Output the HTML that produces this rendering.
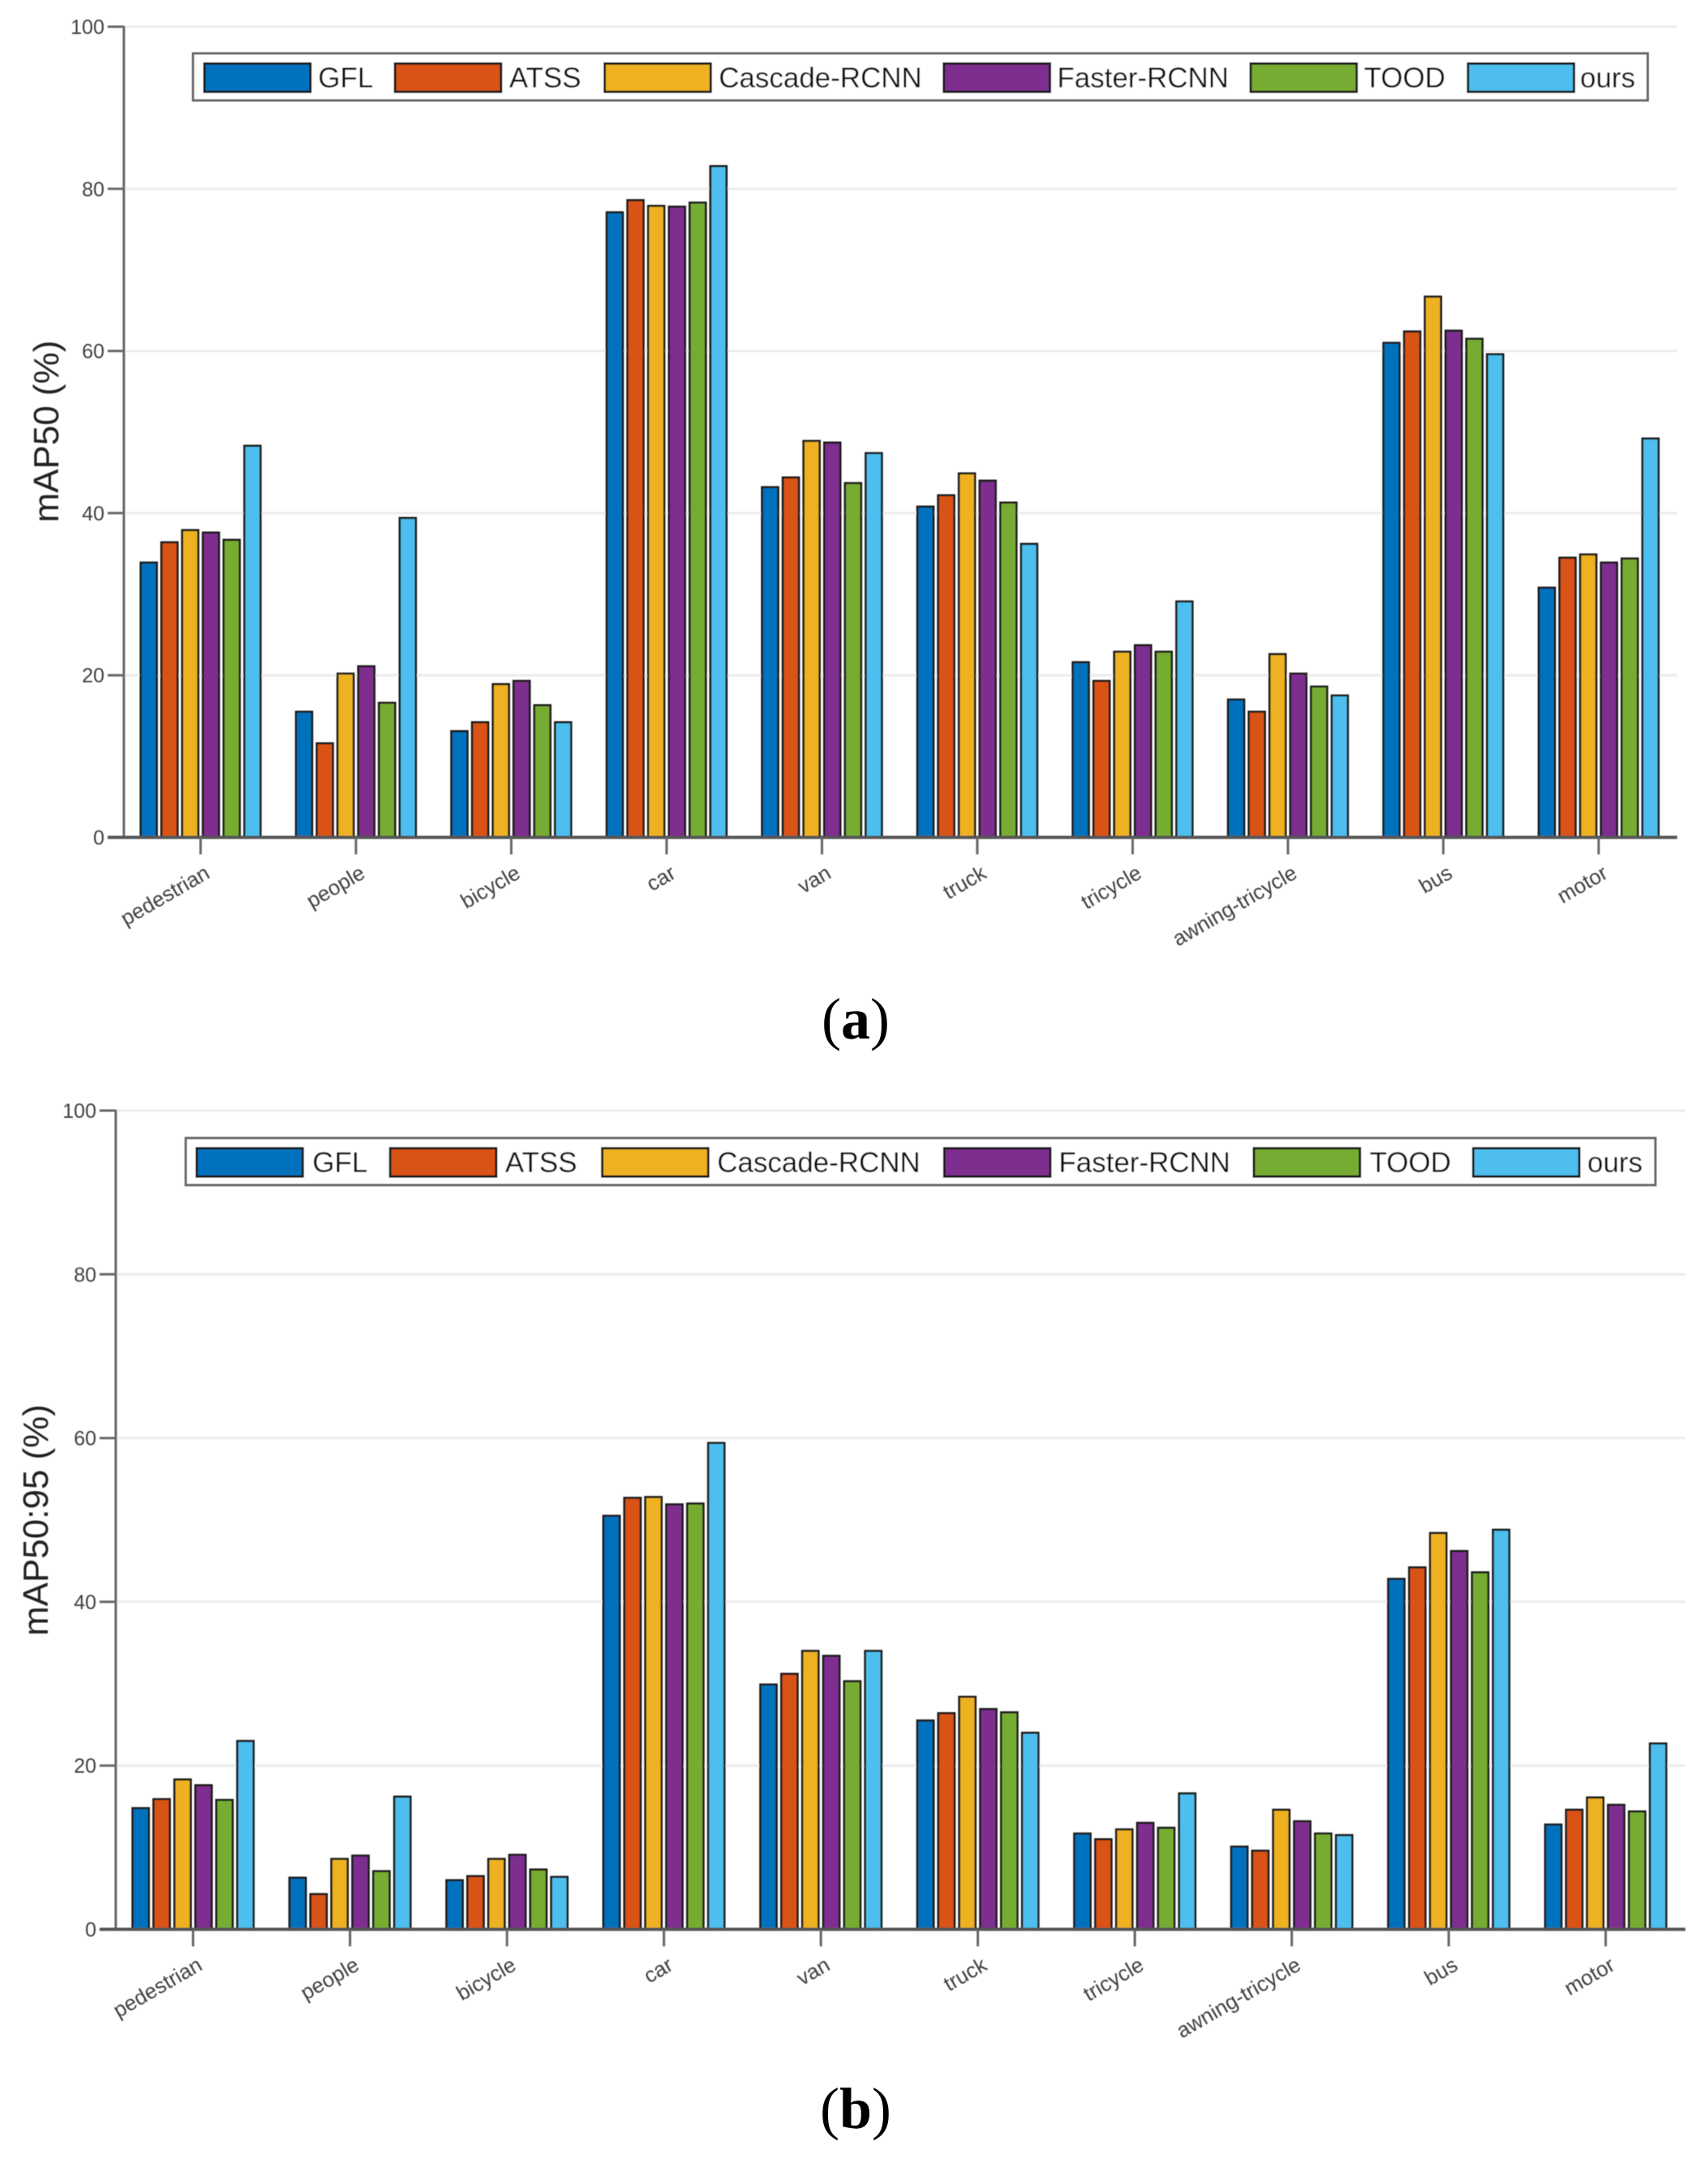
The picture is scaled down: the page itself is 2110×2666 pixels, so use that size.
<!DOCTYPE html>
<html lang="en">
<head>
<meta charset="utf-8">
<title>mAP comparison charts</title>
<style>
html,body{margin:0;padding:0;background:#fff;}
body{width:2110px;height:2666px;overflow:hidden;}
svg{display:block;}
text{font-family:"Liberation Sans",sans-serif;}
.serif{font-family:"Liberation Serif",serif;}
</style>
</head>
<body>
<svg id="figure" xmlns="http://www.w3.org/2000/svg" width="2110" height="2666" viewBox="0 0 2110 2666">
  <defs><filter id="soft" x="-2%" y="-2%" width="104%" height="104%"><feGaussianBlur stdDeviation="0.6"/></filter></defs>
  <rect width="2110" height="2666" fill="#ffffff"/>
  <g id="chart-a" filter="url(#soft)"></g>
  <g id="chart-b" filter="url(#soft)"></g>
  <text class="serif" x="1057" y="1283" font-size="72" text-anchor="middle" fill="#000">(<tspan font-weight="bold">a</tspan>)</text>
  <text class="serif" x="1057" y="2629" font-size="72" text-anchor="middle" fill="#000">(<tspan font-weight="bold">b</tspan>)</text>
</svg>
<script>
const categories = ['pedestrian','people','bicycle','car','van','truck','tricycle','awning-tricycle','bus','motor'];
const seriesNames = ['GFL','ATSS','Cascade-RCNN','Faster-RCNN','TOOD','ours'];
const yTicks = [0,20,40,60,80,100];

const map50GFL     = [33.9,15.5,13.1,77.1,43.2,40.8,21.6,17.0,61.0,30.8];
const map50ATSS    = [36.4,11.6,14.2,78.6,44.4,42.2,19.3,15.5,62.4,34.5];
const map50Cascade = [37.9,20.2,18.9,77.9,48.9,44.9,22.9,22.6,66.7,34.9];
const map50Faster  = [37.6,21.1,19.3,77.8,48.7,44.0,23.7,20.2,62.5,33.9];
const map50TOOD    = [36.7,16.6,16.3,78.3,43.7,41.3,22.9,18.6,61.5,34.4];
const map50Ours    = [48.3,39.4,14.2,82.8,47.4,36.2,29.1,17.5,59.6,49.2];

const map5095GFL     = [14.8,6.3,6.0,50.5,29.9,25.5,11.7,10.1,42.8,12.8];
const map5095ATSS    = [15.9,4.3,6.5,52.7,31.2,26.4,11.0,9.6,44.2,14.6];
const map5095Cascade = [18.3,8.6,8.6,52.8,34.0,28.4,12.2,14.6,48.4,16.1];
const map5095Faster  = [17.6,9.0,9.1,51.9,33.4,26.9,13.0,13.2,46.2,15.2];
const map5095TOOD    = [15.8,7.1,7.3,52.0,30.3,26.5,12.4,11.7,43.6,14.4];
const map5095Ours    = [23.0,16.2,6.4,59.4,34.0,24.0,16.6,11.5,48.8,22.7];

const seriesColors = ['#0072BD','#D95319','#EDB120','#7E2F8E','#77AC30','#4DBEEE'];
const SVGNS = 'http://www.w3.org/2000/svg';

function make(parent, tag, attrs, content) {
  const node = document.createElementNS(SVGNS, tag);
  for (const k in attrs) node.setAttribute(k, attrs[k]);
  if (content !== undefined) node.textContent = content;
  parent.appendChild(node);
  return node;
}

function drawChart(root, cfg) {
  const yScale = v => cfg.y0 - v * (cfg.y0 - cfg.y100) / 100;
  const xScale = i => cfg.xFirst + i * cfg.xStep;
  const pitch = cfg.xStep * 0.1335;
  const barW = pitch * 0.78;

  yTicks.forEach(t => {
    if (t > 0) {
      const grid = make(root, 'line', {x1: cfg.xAxis, x2: cfg.xEnd, y1: yScale(t), y2: yScale(t), stroke: '#ececec', 'stroke-width': 3});
      
      
    }
    const tick = make(root, 'line', {x1: cfg.xAxis - 20, x2: cfg.xAxis, y1: yScale(t), y2: yScale(t), stroke: '#666', 'stroke-width': 3});
    
    
    const label = make(root, 'text', {x: cfg.xAxis - 24, y: yScale(t) + 9, 'font-size': 25, 'text-anchor': 'end', fill: '#404040'}, String(t));
    
    
  });

  const yAxis = make(root, 'line', {x1: cfg.xAxis, x2: cfg.xAxis, y1: cfg.y100 - 1, y2: cfg.y0, stroke: '#666', 'stroke-width': 3});
  
  

  cfg.series.forEach((values, s) => {
    values.forEach((v, i) => {
      const cx = xScale(i) + (s - 2.5) * pitch;
      const bar = make(root, 'rect', {
        x: cx - barW / 2, y: yScale(v), width: barW, height: cfg.y0 - yScale(v),
        fill: seriesColors[s], stroke: '#1c1c1c', 'stroke-width': 2.6
      });
      
      
    });
  });

  const xAxis = make(root, 'line', {x1: cfg.xAxis - 20, x2: cfg.xEnd, y1: cfg.y0, y2: cfg.y0, stroke: '#555', 'stroke-width': 4});
  
  

  categories.forEach((c, i) => {
    const tick = make(root, 'line', {x1: xScale(i), x2: xScale(i), y1: cfg.y0, y2: cfg.y0 + 21, stroke: '#666', 'stroke-width': 3});
    
    
    const lx = xScale(i) + 13;
    const ly = cfg.y0 + 49;
    const label = make(root, 'text', {x: lx, y: ly, 'font-size': 26, 'text-anchor': 'end', fill: '#404040', transform: 'rotate(-30 ' + lx + ' ' + ly + ')'}, c);
    
    
  });

  const title = make(root, 'text', {x: 0, y: 0, 'font-size': 44, 'text-anchor': 'middle', fill: '#222', transform: 'translate(' + cfg.titleX + ' ' + cfg.titleY + ') rotate(-90)'}, cfg.title);
  
  

  const box = make(root, 'rect', {x: cfg.legend.x, y: cfg.legend.y, width: cfg.legend.w, height: cfg.legend.h, fill: '#fff', stroke: '#666', 'stroke-width': 3});
  
  
  seriesNames.forEach((name, s) => {
    const sx = cfg.legend.swatches[s];
    const swatch = make(root, 'rect', {x: sx, y: cfg.legend.y + 12.5, width: 131, height: 35, fill: seriesColors[s], stroke: '#1c1c1c', 'stroke-width': 3});
    
    
    const txt = make(root, 'text', {x: cfg.legend.labels[s], y: cfg.legend.y + 42, 'font-size': 35, fill: '#111'}, name);
    
    
  });
}

drawChart(document.getElementById('chart-a'), {
  y0: 1034.5, y100: 33, xAxis: 153, xEnd: 2072, xFirst: 247.8, xStep: 191.9,
  title: 'mAP50 (%)', titleX: 72, titleY: 533,
  series: [map50GFL, map50ATSS, map50Cascade, map50Faster, map50TOOD, map50Ours],
  legend: {x: 238.5, y: 66, w: 1797, h: 58,
    swatches: [252.5, 488, 747, 1166, 1545, 1813.5],
    labels: [393, 629, 888, 1306, 1685, 1952]}
});
drawChart(document.getElementById('chart-b'), {
  y0: 2383.5, y100: 1372, xAxis: 143, xEnd: 2082, xFirst: 238.5, xStep: 193.9,
  title: 'mAP50:95 (%)', titleX: 59, titleY: 1878,
  series: [map5095GFL, map5095ATSS, map5095Cascade, map5095Faster, map5095TOOD, map5095Ours],
  legend: {x: 229.5, y: 1406, w: 1815.5, h: 58,
    swatches: [243, 482, 744, 1166.5, 1549, 1820],
    labels: [386, 624, 886, 1308, 1692, 1961]}
});
</script>
</body>
</html>
